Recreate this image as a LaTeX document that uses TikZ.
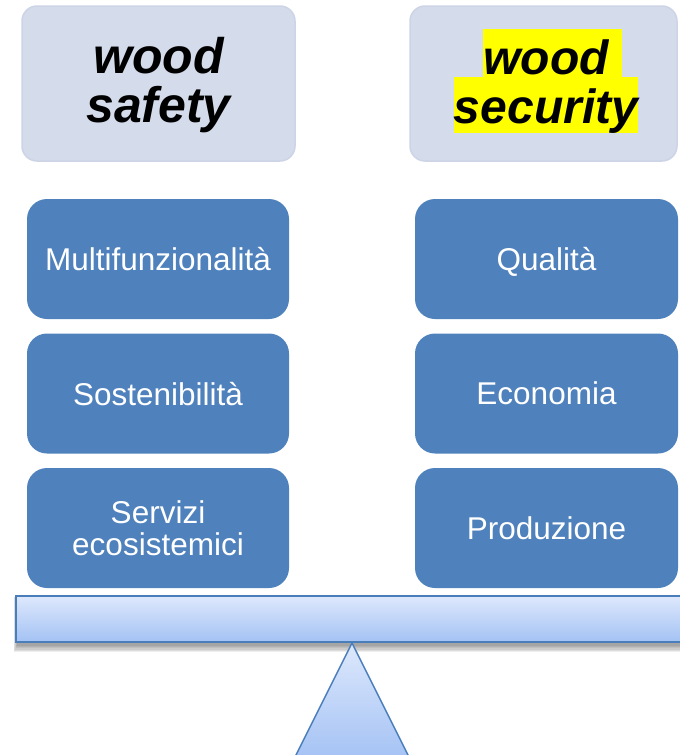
\documentclass[tikz,border=0pt]{standalone}
\usepackage{fontspec}
\setmainfont{Liberation Sans}
\definecolor{hdrfill}{HTML}{D4DBEA}
\definecolor{hdrline}{HTML}{CCD4E6}
\definecolor{boxblue}{HTML}{4F81BD}
\definecolor{beamtop}{HTML}{DDE8FC}
\definecolor{beambot}{HTML}{A4C2F4}
\definecolor{beamline}{HTML}{4A7EBB}
\definecolor{hl}{HTML}{FFFF00}
\setlength{\fboxsep}{0pt}
\newcommand{\hstrutA}{\rule[-3pt]{0pt}{48pt}}
\newcommand{\hstrutB}{\rule[-10pt]{0pt}{56pt}}
\begin{document}
\begin{tikzpicture}[x=1pt,y=-1pt,
  hdr/.style={rectangle, rounded corners=15pt, fill=hdrfill, draw=hdrline,
    line width=1.5pt, minimum height=155pt, inner sep=0pt, outer sep=0pt},
  hdrtext/.style={inner sep=0pt, outer sep=0pt, align=center, yshift=2.5pt,
    font=\fontsize{48}{49}\selectfont\bfseries\itshape},
  item/.style={rectangle, rounded corners=20pt, fill=boxblue, minimum height=120pt,
    inner sep=0pt, outer sep=0pt, align=center, text=white, text depth=0pt,
    font=\fontsize{31.5}{32}\selectfont},
  beam/.style={draw=beamline, line width=1.5pt, top color=beamtop, bottom color=beambot},
  shade/.style={fill=black, opacity=0.07}
]
\useasboundingbox (0,0) rectangle (680,755);
\clip (0,0) rectangle (680,755);

% headers
\node[hdr, minimum width=273pt] (hL) at (158.5,83.5) {};
\node[hdr, minimum width=267pt] (hR) at (543.5,83.5) {};
\node[hdrtext, font=\fontsize{50}{49}\selectfont\bfseries\itshape] (hLt) at (hL.center) {\hstrutA wood\\\hstrutB safety};
\node[hdrtext, xshift=2.5pt] (hRt) at (hR.center) {\colorbox{hl}{\hstrutA wood}\rlap{\colorbox{hl}{\hstrutA\ }}\\\colorbox{hl}{\hstrutB security}};

% left column
\node[item, minimum width=262pt] (l1) at (158,259) {Multifunzionalità};
\node[item, minimum width=262pt] (l2) at (158,393.5) {Sostenibilità};
\node[item, minimum width=262pt] (l3) at (158,528) {Servizi\\ecosistemici};

% right column
\node[item, minimum width=263pt] (r1) at (546.5,259) {Qualità};
\node[item, minimum width=263pt] (r2) at (546.5,393.5) {Economia};
\node[item, minimum width=263pt] (r3) at (546.5,528) {Produzione};

% seesaw beam with soft shadow
\foreach \k in {0,1,...,5}{
  \fill[shade] (17-\k*0.7,600-\k*0.7) rectangle (720,646+\k*1.2);
}
\path[beam] (16,596) rectangle (720,642);

% fulcrum
\path[beam] (352,643) -- (293.5,760) -- (410.5,760) -- cycle;
\end{tikzpicture}
\end{document}
